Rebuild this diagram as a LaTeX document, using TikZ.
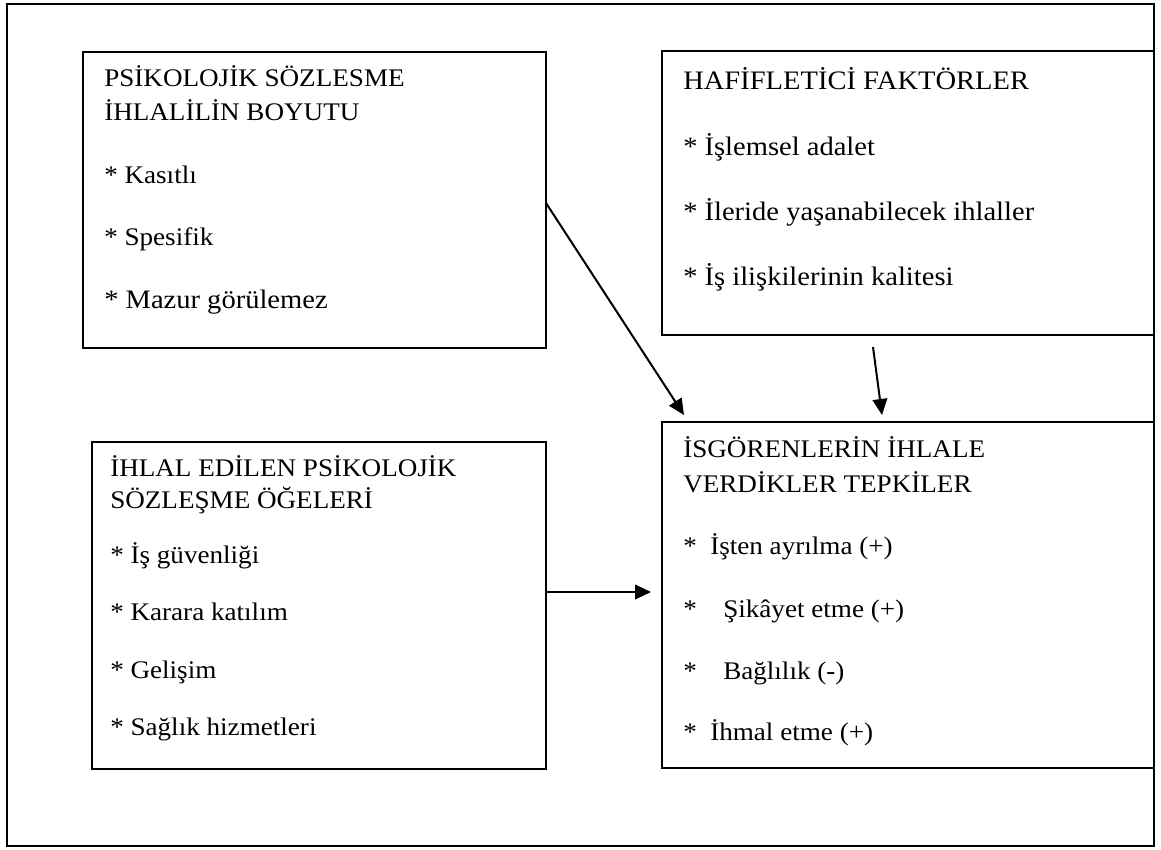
\documentclass[tikz,border=0pt]{standalone}
\usepackage{fontspec}
\setmainfont{Liberation Serif}[FakeStretch=1.07]
\usetikzlibrary{arrows.meta,fit}
\begin{document}
\begin{tikzpicture}[x=0.75pt,y=-0.75pt,
  framebox/.style={draw,line width=1.2pt,inner sep=0pt,outer sep=0pt},
  boxnode/.style={draw,line width=1.4pt,inner sep=0pt,outer sep=0pt},
  txt/.style={inner sep=0pt,anchor=base west,font=\fontsize{19}{22}\selectfont},
  bigtxt/.style={inner sep=0pt,anchor=base west,font=\fontsize{20}{23}\selectfont},
  arr/.style={line width=1.5pt,-{Triangle[length=12pt,width=11pt]}}]
\fill[white] (0,0) rectangle (1161,850);
\useasboundingbox (0,0) rectangle (1161,850);
% frame and boxes
\node[framebox,fit={(7,4) (1154,846)}] (frame) {};
\node[boxnode,fit={(83,52) (546,348)}] (b1) {};
\node[boxnode,fit={(662,51) (1154,335)}] (b2) {};
\node[boxnode,fit={(92,442) (546,769)}] (b3) {};
\node[boxnode,fit={(662,422) (1154,768)}] (b4) {};
% box 1 texts
\node[txt] (t11) at (104,86) {PSİKOLOJİK SÖZLESME};
\node[txt] (t12) at (104,120) {İHLALİLİN BOYUTU};
\node[txt] (t13) at (104,183) {* Kasıtlı};
\node[txt] (t14) at (104,245) {* Spesifik};
\node[bigtxt] (t15) at (104,308) {* Mazur görülemez};
% box 2 texts
\node[bigtxt] (t21) at (683,89) {HAFİFLETİCİ FAKTÖRLER};
\node[bigtxt] (t22) at (683,155) {* İşlemsel adalet};
\node[bigtxt] (t23) at (683,220) {* İleride yaşanabilecek ihlaller};
\node[bigtxt] (t24) at (683,285) {* İş ilişkilerinin kalitesi};
% box 3 texts
\node[txt] (t31) at (110,476) {İHLAL EDİLEN PSİKOLOJİK};
\node[txt] (t32) at (110,508) {SÖZLEŞME ÖĞELERİ};
\node[txt] (t33) at (110,563) {* İş güvenliği};
\node[txt] (t34) at (110,620) {* Karara katılım};
\node[txt] (t35) at (110,678) {* Gelişim};
\node[txt] (t36) at (110,735) {* Sağlık hizmetleri};
% box 4 texts
\node[txt] (t41) at (683,457) {İSGÖRENLERİN İHLALE};
\node[txt] (t42) at (683,492) {VERDİKLER TEPKİLER};
\node[txt] (t43) at (683,554) {\makebox[20.25pt][l]{*}İşten ayrılma (+)};
\node[txt] (t44) at (683,617) {\makebox[30pt][l]{*}Şikâyet etme (+)};
\node[txt] (t45) at (683,679) {\makebox[30pt][l]{*}Bağlılık (-)};
\node[txt] (t46) at (683,740) {\makebox[20.25pt][l]{*}İhmal etme (+)};
% arrows
\coordinate (a1s) at (546,203);
\coordinate (a1e) at (684,415);
\coordinate (a2s) at (873,347);
\coordinate (a2e) at (882,415);
\coordinate (a3s) at (546,592);
\coordinate (a3e) at (651,592);
\draw[arr] (a1s) -- (a1e);
\draw[arr] (a2s) -- (a2e);
\draw[arr] (a3s) -- (a3e);
\end{tikzpicture}
\end{document}
